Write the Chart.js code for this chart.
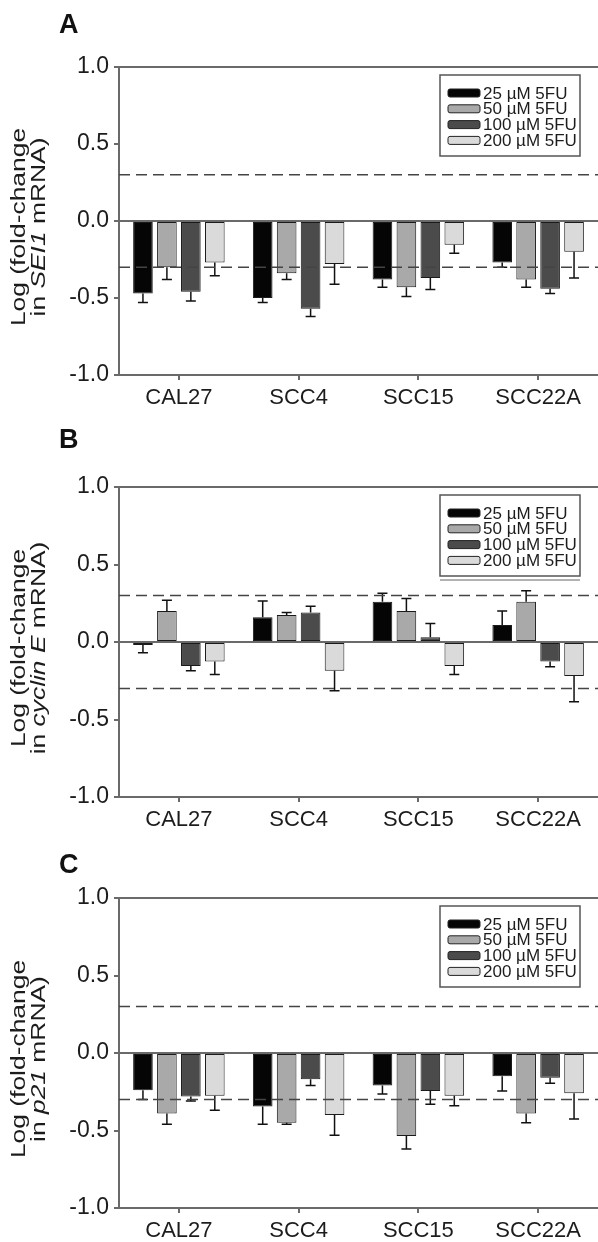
<!DOCTYPE html>
<html>
<head>
<meta charset="utf-8">
<title>5FU fold-change</title>
<script src="https://cdn.jsdelivr.net/npm/chart.js@4.4.1/dist/chart.umd.min.js"></script>
<style>
  body { margin: 0; background: #fff; }
  canvas { position: absolute; left: 0; }
</style>
</head>
<body>
<canvas id="panelA" width="598" height="415" style="top:0px"></canvas>
<canvas id="panelB" width="598" height="415" style="top:415px"></canvas>
<canvas id="panelC" width="598" height="412" style="top:830px"></canvas>

<script>
const cellLines = ['CAL27', 'SCC4', 'SCC15', 'SCC22A']
const doses = ['25 µM 5FU', '50 µM 5FU', '100 µM 5FU', '200 µM 5FU']
const yTicks = [-1.0, -0.5, 0.0, 0.5, 1.0]
const cutoff = 0.3 // dashed lines at +/- this

// panel A: SEI1
const sei1_25 = [-0.47, -0.50, -0.38, -0.27]
const sei1_25_err = [0.06, 0.03, 0.05, 0.03]
const sei1_50 = [-0.30, -0.34, -0.43, -0.38]
const sei1_50_err = [0.08, 0.04, 0.06, 0.05]
const sei1_100 = [-0.46, -0.57, -0.37, -0.44]
const sei1_100_err = [0.06, 0.05, 0.075, 0.03]
const sei1_200 = [-0.27, -0.28, -0.155, -0.20]
const sei1_200_err = [0.085, 0.13, 0.055, 0.17]

// panel B: cyclin E
const cycE_25 = [-0.02, 0.16, 0.26, 0.11]
const cycE_25_err = [0.05, 0.105, 0.055, 0.09]
const cycE_50 = [0.20, 0.175, 0.20, 0.26]
const cycE_50_err = [0.07, 0.015, 0.08, 0.07]
const cycE_100 = [-0.155, 0.19, 0.03, -0.125]
const cycE_100_err = [0.03, 0.04, 0.09, 0.035]
const cycE_200 = [-0.125, -0.185, -0.155, -0.22]
const cycE_200_err = [0.085, 0.13, 0.055, 0.165]

// panel C: p21
const p21_25 = [-0.24, -0.345, -0.21, -0.15]
const p21_25_err = [0.06, 0.115, 0.055, 0.095]
const p21_50 = [-0.39, -0.45, -0.535, -0.39]
const p21_50_err = [0.07, 0.01, 0.085, 0.06]
const p21_100 = [-0.28, -0.17, -0.245, -0.16]
const p21_100_err = [0.03, 0.04, 0.085, 0.035]
const p21_200 = [-0.275, -0.40, -0.275, -0.26]
const p21_200_err = [0.095, 0.13, 0.065, 0.165]

const barColors = ['#050505', '#a9a9a9', '#4b4b4b', '#dadada']
const FONT = 'Liberation Sans, Arial, Helvetica, sans-serif'
const TEXT = '#1c1c1c'
const AXIS = '#6a6a6a'

// draw a line of text made of [string, italic] pieces, rotated to read bottom-up
function drawRotatedRich(ctx, pieces, cy, baseX, size, stretch) {
    ctx.save()
    ctx.translate(0, cy)
    ctx.rotate(-Math.PI / 2)
    ctx.scale(stretch, 1)
    let total = 0
    pieces.forEach(([s, it]) => {
        ctx.font = (it ? 'italic ' : '') + size + 'px ' + FONT
        total += ctx.measureText(s).width
    })
    let x = -total / 2
    ctx.fillStyle = TEXT
    ctx.textBaseline = 'alphabetic'
    ctx.textAlign = 'left'
    pieces.forEach(([s, it]) => {
        ctx.font = (it ? 'italic ' : '') + size + 'px ' + FONT
        ctx.fillText(s, x, baseX)
        x += ctx.measureText(s).width
    })
    ctx.restore()
}

const extras = {
    id: 'extras',
    afterDatasetsDraw(chart, args, opts) {
        const ctx = chart.ctx
        const { left, right, top, bottom } = chart.chartArea
        const y = chart.scales.y

        // error bars, one-sided away from zero
        chart.data.datasets.forEach((ds, i) => {
            const meta = chart.getDatasetMeta(i)
            meta.data.forEach((bar, j) => {
                const v = ds.data[j]
                const e = ds.errors[j]
                const tip = y.getPixelForValue(v < 0 ? v - e : v + e)
                ctx.save()
                ctx.strokeStyle = '#111'
                ctx.lineWidth = 1.5
                ctx.beginPath()
                ctx.moveTo(bar.x, bar.y)
                ctx.lineTo(bar.x, tip)
                ctx.moveTo(bar.x - 5, tip)
                ctx.lineTo(bar.x + 5, tip)
                ctx.stroke()
                ctx.restore()
            })
        })

        // zero line
        ctx.save()
        ctx.strokeStyle = AXIS
        ctx.lineWidth = 2
        ctx.beginPath()
        ctx.moveTo(left, y.getPixelForValue(0))
        ctx.lineTo(right, y.getPixelForValue(0))
        // top frame line
        ctx.moveTo(left, top)
        ctx.lineTo(right, top)
        ctx.stroke()

        // dashed cut-off lines
        ctx.strokeStyle = '#444'
        ctx.lineWidth = 1.6
        ctx.setLineDash([11, 6])
        ;[cutoff, -cutoff].forEach(c => {
            const py = y.getPixelForValue(c)
            ctx.beginPath()
            ctx.moveTo(left, py)
            ctx.lineTo(right, py)
            ctx.stroke()
        })
        ctx.restore()

        // legend box
        const bx0 = 440, bx1 = 580, by0 = top + 8, by1 = top + 89
        ctx.save()
        ctx.fillStyle = '#fff'
        ctx.fillRect(bx0, by0, bx1 - bx0, by1 - by0)
        ctx.strokeStyle = '#555'
        ctx.lineWidth = 1.5
        ctx.strokeRect(bx0, by0, bx1 - bx0, by1 - by0)
        if (opts.legendShadow) {
            ctx.strokeStyle = '#999'
            ctx.beginPath()
            ctx.moveTo(bx0, by1 + 4)
            ctx.lineTo(bx1, by1 + 4)
            ctx.stroke()
        }
        chart.data.datasets.forEach((ds, i) => {
            const ry = top + 26 + i * 15.8
            ctx.beginPath()
            ctx.roundRect(448, ry - 4, 32, 8, 2)
            ctx.fillStyle = ds.backgroundColor
            ctx.fill()
            ctx.strokeStyle = '#222'
            ctx.lineWidth = 1
            ctx.stroke()
            ctx.fillStyle = TEXT
            ctx.font = '17px ' + FONT
            ctx.textBaseline = 'middle'
            ctx.textAlign = 'left'
            ctx.fillText(ds.label, 483, ry + 1)
        })
        ctx.restore()

        // panel letter
        ctx.save()
        ctx.fillStyle = '#111'
        ctx.font = 'bold 27px ' + FONT
        ctx.textBaseline = 'alphabetic'
        ctx.fillText(opts.letter, 59, opts.letterY)
        ctx.restore()

        // y axis title, two lines
        const cy = (top + bottom) / 2 + 6
        drawRotatedRich(ctx, [['Log (fold-change', false]], cy, 25, 20, 1.32)
        drawRotatedRich(ctx, opts.title2, cy, 44.5, 20, 1.32)
    }
}

function makePanel(id, series, errs, opts) {
    new Chart(id, {
        type: 'bar',
        data: {
            labels: cellLines,
            datasets: series.map((d, i) => ({
                label: doses[i],
                data: d,
                errors: errs[i],
                backgroundColor: barColors[i],
                borderColor: '#1a1a1a',
                borderWidth: 1,
                borderSkipped: false,
                categoryPercentage: 0.8,
                barPercentage: 0.82,
            })),
        },
        options: {
            responsive: false,
            animation: false,
            layout: { padding: { top: opts.padTop, bottom: opts.padBottom, left: 0, right: 0 } },
            plugins: {
                legend: { display: false },
                tooltip: { enabled: false },
                extras: opts,
            },
            scales: {
                x: {
                    ticks: { font: { size: 22, family: FONT }, color: TEXT, padding: 5 },
                    grid: { offset: false, drawOnChartArea: false, tickLength: 5, color: AXIS, lineWidth: 2 },
                    border: { color: AXIS, width: 2 },
                    afterFit: s => { s.height = 30 },
                },
                y: {
                    min: -1,
                    max: 1,
                    afterBuildTicks: s => { s.ticks = yTicks.map(v => ({ value: v })) },
                    ticks: { callback: v => v.toFixed(1), font: { size: 23, family: FONT }, color: TEXT, padding: 5 },
                    grid: { drawOnChartArea: false, tickLength: 5, color: AXIS, lineWidth: 2 },
                    border: { color: AXIS, width: 2 },
                    afterFit: s => { s.width = 119 },
                },
            },
        },
        plugins: [extras],
    })
}

makePanel('panelA',
    [sei1_25, sei1_50, sei1_100, sei1_200],
    [sei1_25_err, sei1_50_err, sei1_100_err, sei1_200_err],
    { letter: 'A', letterY: 33, padTop: 67, padBottom: 10,
      title2: [['in ', false], ['SEI1', true], [' mRNA)', false]] })

makePanel('panelB',
    [cycE_25, cycE_50, cycE_100, cycE_200],
    [cycE_25_err, cycE_50_err, cycE_100_err, cycE_200_err],
    { letter: 'B', letterY: 33, padTop: 72, padBottom: 3, legendShadow: true,
      title2: [['in ', false], ['cyclin E', true], [' mRNA)', false]] })

makePanel('panelC',
    [p21_25, p21_50, p21_100, p21_200],
    [p21_25_err, p21_50_err, p21_100_err, p21_200_err],
    { letter: 'C', letterY: 43, padTop: 68, padBottom: 4,
      title2: [['in ', false], ['p21', true], [' mRNA)', false]] })
</script>
</body>
</html>
